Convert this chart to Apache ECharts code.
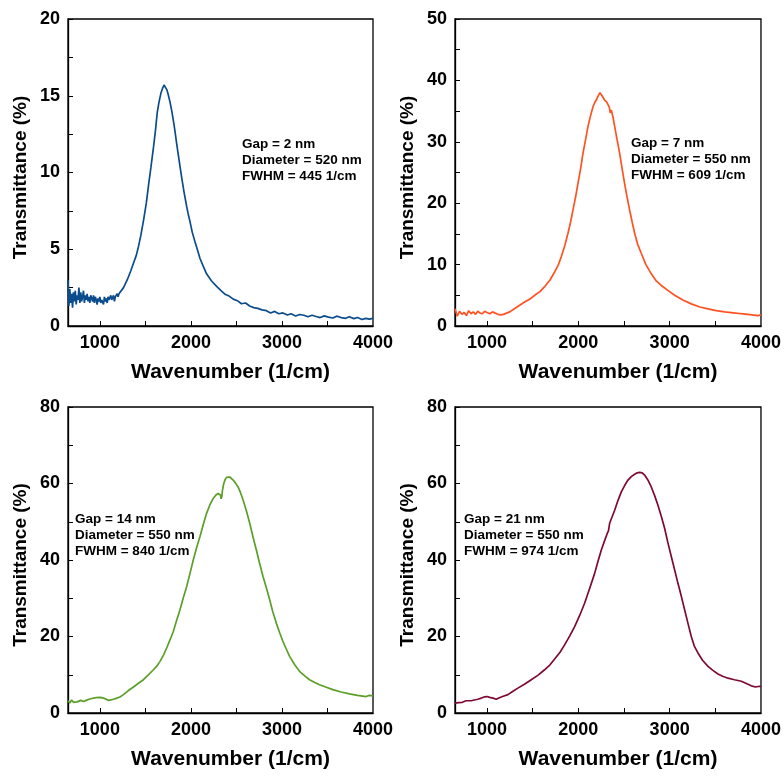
<!DOCTYPE html>
<html><head><meta charset="utf-8">
<script src="https://cdn.jsdelivr.net/npm/echarts@6/dist/echarts.min.js"></script>
<style>html,body{margin:0;padding:0;background:#fff}#c{width:784px;height:778px}</style>
</head><body><div id="c"></div>
<script>
// Panel 1: Gap 2 nm
const wn1 = [650,660,670,680,690,700,710,720,730,740,750,760,770,780,790,800,810,820,830,840,850,860,870,880,890,900,910,920,930,940,950,960,970,980,990,1000,1010,1020,1030,1040,1050,1060,1070,1080,1090,1100,1110,1120,1130,1140,1150,1160,1170,1180,1190,1200,1210,1220,
  1260,1300,1340,1370,1400,1425,1450,1480,1510,1535,1560,1590,1610,1630,1650,1672,1690,1705,1720,1735,1750,1770,1790,1807,1825,1843,1870,1898,1925,1953,1970,1990,2015,2044,2070,2100,2135,2172,2225,2280,2330,2380,2420,2465,2510,2555,2600,2645,2690,2735,2780,2830,2875,2920,2965,3010,3060,3100,3150,3195,3240,3285,3330,3375,3420,3465,3510,3560,3600,3650,3700,3740,3790,3830,3880,3920,3960,4000];
const t1 = [3.0,1.3,2.4,1.5,2.1,1.2,2.2,1.6,2.3,1.4,2.0,1.7,2.5,1.5,2.2,1.6,1.9,2.3,1.5,2.0,1.7,2.1,1.6,1.9,1.5,2.0,1.8,1.6,2.0,1.5,1.9,1.7,1.4,1.8,1.6,1.9,1.5,1.7,1.8,1.4,1.9,1.6,1.8,1.5,1.9,1.7,1.6,2.0,1.7,1.8,2.0,1.6,1.9,1.8,2.1,1.9,2.1,2.2,
  2.5,3.0,3.6,4.1,4.6,5.2,5.9,6.9,8.0,9.2,10.3,11.7,12.7,13.9,14.6,15.2,15.5,15.7,15.6,15.4,15.1,14.6,14.0,13.4,12.7,11.9,10.8,9.7,8.7,7.8,7.3,6.8,6.1,5.5,5.0,4.4,3.9,3.4,2.95,2.6,2.3,2.05,1.95,1.75,1.65,1.45,1.5,1.3,1.2,1.15,1.05,1.0,0.85,0.95,0.8,0.85,0.72,0.8,0.65,0.75,0.7,0.6,0.7,0.62,0.55,0.66,0.58,0.52,0.64,0.55,0.5,0.6,0.48,0.55,0.42,0.5,0.45,0.5];
// Panel 2: Gap 7 nm
const wn2 = [650,675,700,725,750,775,800,825,850,875,900,925,950,975,1000,1030,1060,1090,1120,1150,1180,1200,1250,1300,1350,1412,1470,1522,1580,1631,1690,1741,1780,1814,1850,1887,1915,1942,1970,1996,2025,2051,2080,2106,2135,2161,2180,2197,2215,2237,2260,2288,2310,2325,2340,2350,2361,2380,2398,2425,2453,2480,2507,2535,2562,2590,2617,2650,2690,2740,2799,2850,2909,2980,3055,3150,3237,3330,3420,3510,3602,3700,3785,3880,3967,4000];
const t2 = [2.8,1.6,2.4,1.9,2.2,1.7,2.5,2.0,2.3,1.9,2.4,2.1,2.0,2.4,2.2,2.0,2.3,2.1,1.9,1.8,1.9,1.9,2.3,2.8,3.3,3.9,4.4,5.0,5.6,6.4,7.5,8.8,9.9,11.3,13.0,15.1,16.9,18.9,21.0,23.2,25.6,28.1,30.4,32.5,34.3,35.7,36.4,36.8,37.4,38.0,37.5,36.8,36.5,36.3,35.6,34.7,35.2,34.0,32.5,30.3,28.1,25.6,23.2,20.9,18.9,16.9,15.1,13.3,11.8,10.0,8.5,7.4,6.6,5.8,5.0,4.2,3.6,3.1,2.8,2.5,2.3,2.15,2.0,1.85,1.7,1.8];
// Panel 3: Gap 14 nm
const wn3 = [650,670,690,710,730,750,770,790,821,850,880,910,931,960,1004,1040,1077,1100,1113,1150,1186,1220,1259,1310,1369,1420,1478,1530,1588,1630,1661,1700,1734,1770,1807,1840,1880,1915,1953,1990,2026,2060,2099,2135,2172,2210,2245,2275,2299,2315,2325,2332,2340,2347,2361,2375,2391,2410,2427,2445,2464,2490,2518,2545,2573,2610,2646,2680,2719,2755,2792,2830,2865,2900,2938,2975,3011,3050,3084,3140,3193,3250,3303,3360,3412,3480,3558,3650,3741,3830,3923,3960,4000];
const t3 = [3.2,2.6,3.4,2.8,3.3,2.9,3.1,3.3,3.0,3.3,3.6,3.8,3.9,4.0,4.1,3.9,3.5,3.3,3.2,3.6,3.9,4.2,4.8,5.8,6.8,7.7,8.7,9.9,11.3,12.4,13.5,15.2,17.0,19.1,21.3,24.0,27.0,30.0,33.0,36.5,40.0,43.0,46.1,49.2,52.2,54.5,56.1,57.0,57.4,57.6,57.0,56.0,56.6,58.3,60.0,61.0,61.6,61.9,61.7,61.4,60.9,60.1,59.1,57.6,55.7,52.8,49.6,46.2,42.6,39.1,35.7,32.6,29.6,26.4,23.5,21.0,18.7,16.6,14.8,12.6,10.9,9.7,8.7,8.0,7.4,6.8,6.1,5.5,5.0,4.6,4.3,4.6,4.5];
// Panel 4: Gap 21 nm
const wn4 = [650,670,690,710,730,750,770,790,828,860,900,938,970,1000,1030,1066,1085,1102,1130,1170,1230,1280,1339,1410,1485,1560,1631,1690,1741,1800,1850,1905,1960,2015,2069,2125,2179,2215,2252,2290,2318,2330,2343,2360,2398,2435,2471,2510,2544,2580,2617,2645,2672,2700,2726,2760,2799,2835,2872,2910,2945,2980,3018,3055,3091,3128,3164,3200,3237,3270,3310,3360,3420,3470,3529,3580,3639,3710,3785,3840,3894,3940,3985,4000];
const t4 = [2.6,3.1,2.7,3.2,2.8,3.0,3.2,2.9,3.2,3.4,3.6,3.9,4.2,4.3,4.1,3.9,3.6,3.6,3.9,4.3,4.8,5.6,6.5,7.5,8.7,9.9,11.3,12.6,14.1,15.9,17.8,20.1,22.6,25.5,28.7,32.6,36.5,39.6,42.6,45.2,47.0,47.6,49.6,50.0,53.0,55.6,57.8,59.6,60.9,61.8,62.4,62.8,62.9,62.8,62.2,61.0,59.1,56.9,54.3,51.3,48.3,44.6,40.9,37.4,33.9,30.5,27.0,23.5,20.0,17.5,15.7,13.8,12.2,11.2,10.2,9.6,9.1,8.7,8.3,7.7,7.1,6.8,7.0,6.9];

const xLabels = [1000, 2000, 3000, 4000];
const xTickValues = [1000, 1500, 2000, 2500, 3000, 3500];
const notes = [
  'Gap = 2 nm\nDiameter = 520 nm\nFWHM = 445 1/cm',
  'Gap = 7 nm\nDiameter = 550 nm\nFWHM = 609 1/cm',
  'Gap = 14 nm\nDiameter = 550 nm\nFWHM = 840 1/cm',
  'Gap = 21 nm\nDiameter = 550 nm\nFWHM = 974 1/cm'
];
const yMax = [20, 50, 80, 80];
const yStep = [2.5, 5, 10, 10];
const yLabelStep = [5, 10, 20, 20];
const colors = ['#0b4d8c', '#ff5222', '#5b9f29', '#7f0a2f'];

const FONT = '"Liberation Sans", Arial, Helvetica, sans-serif';
const grids = [
  {left: 68, top: 19, width: 305, height: 307},
  {left: 455, top: 19, width: 306, height: 307},
  {left: 68, top: 407, width: 305, height: 306},
  {left: 455, top: 407, width: 306, height: 306}
];
const noteBoxes = [[242, 136], [631, 135], [75, 511], [464, 511]];
const xs = [wn1, wn2, wn3, wn4];
const ys = [t1, t2, t3, t4];

const option = {
  animation: false,
  backgroundColor: '#fff',
  grid: grids.map(g => Object.assign({show: true, borderColor: '#000', borderWidth: 1.3, backgroundColor: 'transparent'}, g)),
  xAxis: grids.map((g, i) => ({
    type: 'value', gridIndex: i, min: 650, max: 4000,
    name: 'Wavenumber (1/cm)', nameLocation: 'middle', nameGap: 36,
    nameTextStyle: {fontFamily: FONT, fontWeight: 'bold', fontSize: 21, color: '#000', padding: [0, 0, 0, 20]},
    axisLine: {show: true, onZero: false, lineStyle: {color: '#000', width: 1.3}},
    axisTick: {show: true, inside: true, length: 5, customValues: xTickValues, lineStyle: {color: '#000', width: 1}},
    axisLabel: {fontFamily: FONT, fontWeight: 'bold', fontSize: 18, color: '#000', margin: 8,
      customValues: xLabels, formatter: v => String(v)},
    splitLine: {show: false}
  })),
  yAxis: grids.map((g, i) => ({
    type: 'value', gridIndex: i, min: 0, max: yMax[i], interval: yStep[i],
    name: 'Transmittance (%)', nameLocation: 'middle', nameGap: 38,
    nameTextStyle: {fontFamily: FONT, fontWeight: 'bold', fontSize: 19, color: '#000', padding: [0, 10, 0, 0]},
    axisLine: {show: true, onZero: false, lineStyle: {color: '#000', width: 1.3}},
    axisTick: {show: true, inside: true, length: 5, lineStyle: {color: '#000', width: 1}},
    axisLabel: {fontFamily: FONT, fontWeight: 'bold', fontSize: 18, color: '#000', margin: 8,
      formatter: v => (Math.abs(v % yLabelStep[i]) < 1e-9 ? String(v) : '')},
    splitLine: {show: false}
  })),
  series: xs.map((x, i) => ({
    type: 'line', xAxisIndex: i, yAxisIndex: i, showSymbol: false, smooth: false,
    lineStyle: {color: colors[i], width: 1.7},
    data: x.map((v, k) => [v, ys[i][k]])
  })),
  graphic: notes.map((t, i) => ({
    type: 'text', left: noteBoxes[i][0], top: noteBoxes[i][1],
    style: {text: t, font: 'bold 13.5px ' + FONT, fill: '#000', lineHeight: 16}
  }))
};
const chart = echarts.init(document.getElementById('c'), null, {renderer: 'canvas'});
chart.setOption(option);
</script></body></html>
